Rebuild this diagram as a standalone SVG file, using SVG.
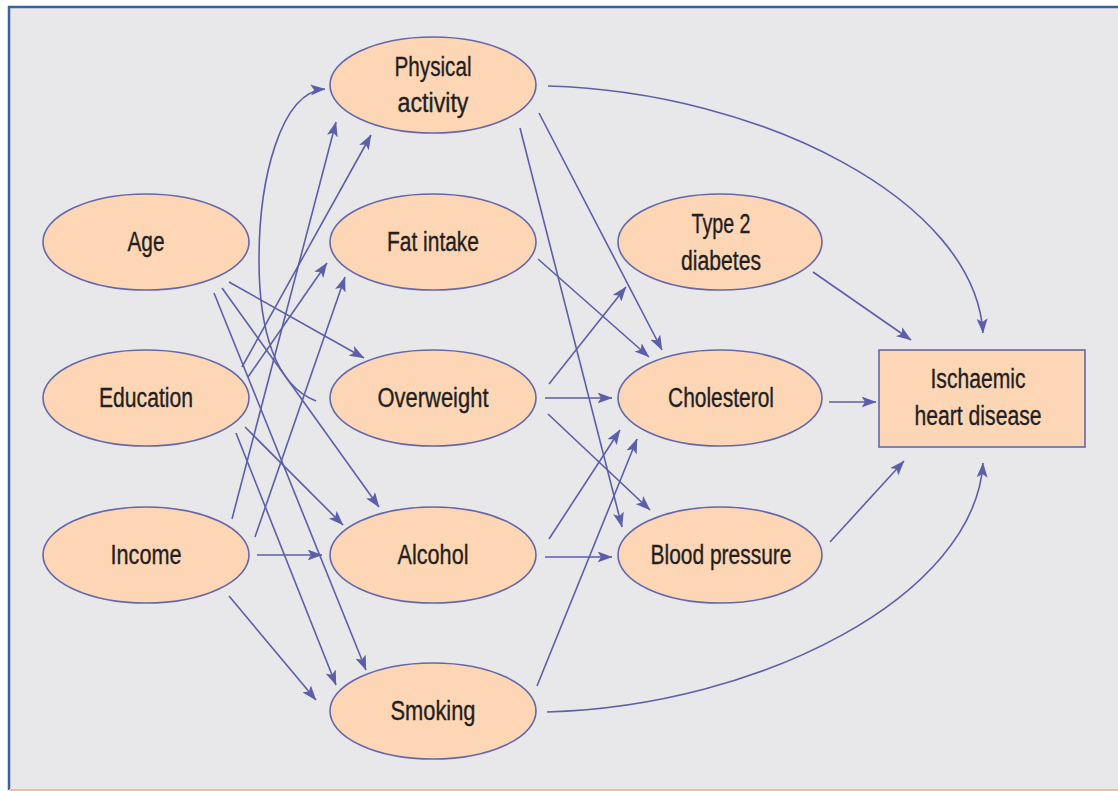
<svg xmlns="http://www.w3.org/2000/svg" width="1118" height="791" viewBox="0 0 1118 791">
<style>
.node ellipse, .node rect { fill: #fdd6b6; stroke: #6567ab; stroke-width: 1.6; }
.node text { font-family: "Liberation Sans", Arial, sans-serif; font-size: 27px; fill: #231f20; stroke: #231f20; stroke-width: 0.35; text-anchor: middle; }
.conn line, .conn path { fill: none; stroke: #5b5fa9; stroke-width: 1.6; marker-end: url(#arr); }
</style>
<defs>
<marker id="arr" viewBox="0 0 15 11" markerWidth="15" markerHeight="11" refX="14.5" refY="5.5" orient="auto" markerUnits="userSpaceOnUse">
<path d="M0,0 L15,5.5 L0,11 L3.5,5.5 z" fill="#5b5fa9"/>
</marker>
</defs>
<rect x="0" y="0" width="1118" height="791" fill="#ffffff"/>
<rect x="9" y="7" width="1109" height="783" fill="#e8e8ea"/>
<line x1="8" y1="7" x2="1118" y2="7" stroke="#3d6199" stroke-width="2.5"/>
<line x1="9" y1="6" x2="9" y2="790" stroke="#3d6199" stroke-width="2.5"/>
<line x1="9" y1="790" x2="1118" y2="790" stroke="#f4b9a2" stroke-width="2"/>

<g id="age" class="node"><ellipse cx="146" cy="242" rx="103" ry="48"/><text x="146" y="251" textLength="37" lengthAdjust="spacingAndGlyphs">Age</text></g>
<g id="education" class="node"><ellipse cx="146" cy="398" rx="103" ry="48"/><text x="146" y="407" textLength="94" lengthAdjust="spacingAndGlyphs">Education</text></g>
<g id="income" class="node"><ellipse cx="146" cy="555" rx="103" ry="48"/><text x="146" y="564" textLength="71" lengthAdjust="spacingAndGlyphs">Income</text></g>
<g id="physical" class="node"><ellipse cx="433" cy="85" rx="103" ry="48"/><text x="433" y="76" textLength="77" lengthAdjust="spacingAndGlyphs">Physical</text><text x="433" y="112" textLength="71" lengthAdjust="spacingAndGlyphs">activity</text></g>
<g id="fat" class="node"><ellipse cx="433" cy="242" rx="103" ry="48"/><text x="433" y="251" textLength="92" lengthAdjust="spacingAndGlyphs">Fat intake</text></g>
<g id="overweight" class="node"><ellipse cx="433" cy="398" rx="103" ry="48"/><text x="433" y="407" textLength="111" lengthAdjust="spacingAndGlyphs">Overweight</text></g>
<g id="alcohol" class="node"><ellipse cx="433" cy="555" rx="103" ry="48"/><text x="433" y="564" textLength="71" lengthAdjust="spacingAndGlyphs">Alcohol</text></g>
<g id="smoking" class="node"><ellipse cx="433" cy="711" rx="103" ry="48"/><text x="433" y="720" textLength="85" lengthAdjust="spacingAndGlyphs">Smoking</text></g>
<g id="diabetes" class="node"><ellipse cx="720" cy="242" rx="102" ry="48"/><text x="721" y="233" textLength="59" lengthAdjust="spacingAndGlyphs">Type 2</text><text x="721" y="270" textLength="80" lengthAdjust="spacingAndGlyphs">diabetes</text></g>
<g id="cholesterol" class="node"><ellipse cx="720" cy="398" rx="102" ry="48"/><text x="721" y="407" textLength="106" lengthAdjust="spacingAndGlyphs">Cholesterol</text></g>
<g id="bp" class="node"><ellipse cx="720" cy="555" rx="102" ry="48"/><text x="721" y="564" textLength="141" lengthAdjust="spacingAndGlyphs">Blood pressure</text></g>
<g id="ihd" class="node"><rect x="879" y="350" width="206" height="97"/><text x="978" y="388" textLength="95" lengthAdjust="spacingAndGlyphs">Ischaemic</text><text x="978" y="425" textLength="127" lengthAdjust="spacingAndGlyphs">heart disease</text></g>

<g id="connectors" class="conn">
<line x1="229" y1="282" x2="364" y2="358"/>
<line x1="222" y1="288" x2="379" y2="507"/>
<line x1="214" y1="293" x2="366" y2="670"/>
<line x1="242" y1="367" x2="371" y2="135"/>
<line x1="248" y1="377" x2="327" y2="263"/>
<line x1="245" y1="427" x2="343" y2="525"/>
<line x1="236" y1="433" x2="336" y2="685"/>
<line x1="232" y1="519" x2="336" y2="122"/>
<line x1="255" y1="537" x2="345" y2="277"/>
<line x1="257" y1="555" x2="322" y2="555"/>
<line x1="229" y1="596" x2="316" y2="700"/>
<path d="M316,401 C 275,385 259,330 259,260 C 259,180 280,92 325,89"/>
<line x1="539" y1="113" x2="662" y2="350"/>
<line x1="520" y1="128" x2="622" y2="527"/>
<path d="M548,86 C 760,92 975,200 983,333"/>
<line x1="538" y1="259" x2="649" y2="357"/>
<line x1="549" y1="384" x2="626" y2="287"/>
<line x1="545" y1="398" x2="612" y2="398"/>
<line x1="548" y1="414" x2="650" y2="510"/>
<line x1="549" y1="539" x2="620" y2="430"/>
<line x1="545" y1="557" x2="612" y2="557"/>
<line x1="537" y1="686" x2="637" y2="439"/>
<path d="M547,712 C 760,706 975,596 983,463"/>
<line x1="813" y1="272" x2="911" y2="340"/>
<line x1="829" y1="402" x2="876" y2="402"/>
<line x1="830" y1="542" x2="904" y2="461"/>
</g>
</svg>
